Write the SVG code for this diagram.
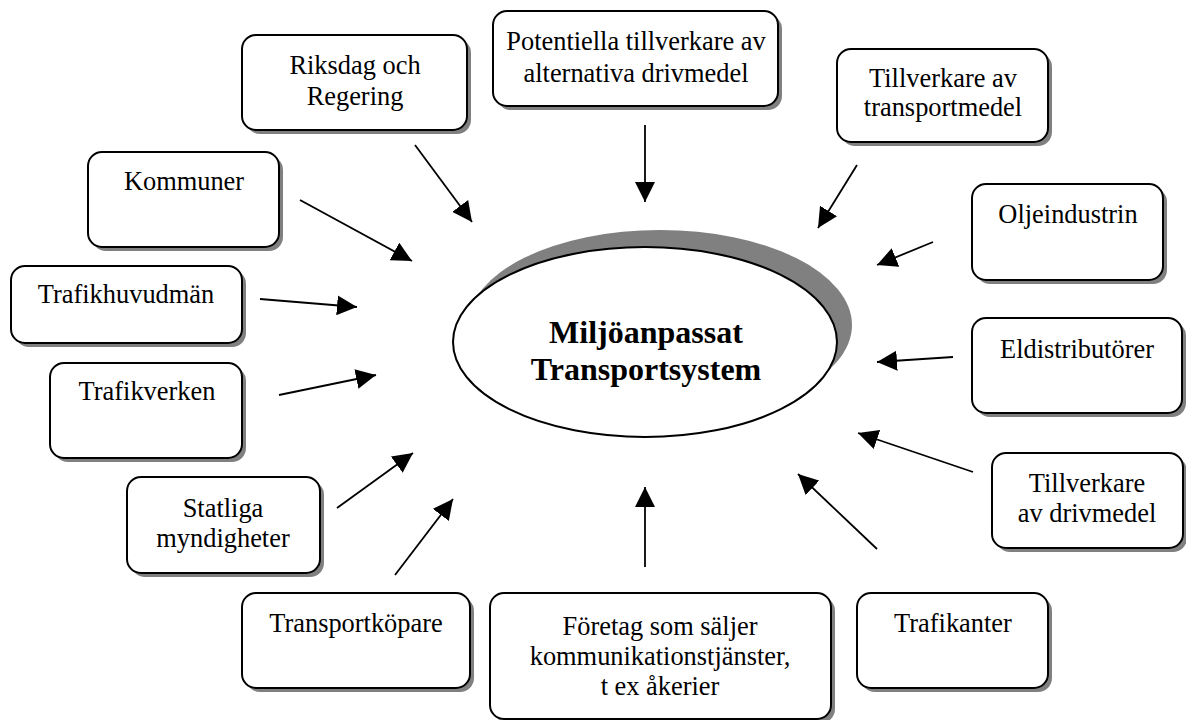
<svg xmlns="http://www.w3.org/2000/svg" width="1186" height="720" viewBox="0 0 1186 720">
  <style>
    .box { fill: #ffffff; stroke: #000000; stroke-width: 2; }
    .shadow { fill: #808080; }
    .lbl { font-family: "Liberation Serif", "Times New Roman", serif; font-size: 26.4px; fill: #000000; text-anchor: middle; }
    .hub { font-family: "Liberation Serif", "Times New Roman", serif; font-size: 32px; font-weight: bold; fill: #000000; text-anchor: middle; }
    .arrow { stroke: #000000; stroke-width: 1.8; fill: none; marker-end: url(#head); }
  </style>
  <defs>
    <marker id="head" markerUnits="userSpaceOnUse" markerWidth="22" markerHeight="20" refX="20" refY="10" orient="auto">
      <path d="M0,0 L20,10 L0,20 z" fill="#000000"/>
    </marker>
  </defs>
  <rect width="1186" height="720" fill="#ffffff"/>

  <!-- central hub -->
  <g id="hub">
    <ellipse cx="660" cy="325" rx="192" ry="95" class="shadow"/>
    <ellipse cx="645" cy="342" rx="192" ry="95" class="box"/>
    <text x="646" y="343" class="hub">Miljöanpassat</text>
    <text x="646" y="380" class="hub">Transportsystem</text>
  </g>

  <g id="riksdag">
    <rect x="246" y="39" width="225" height="95" rx="14" class="shadow"/>
    <rect x="242" y="35" width="225" height="95" rx="14" class="box"/>
    <text x="355" y="74" class="lbl">Riksdag och</text>
    <text x="355" y="105" class="lbl">Regering</text>
  </g>

  <g id="potentiella">
    <rect x="497" y="15" width="285" height="95" rx="14" class="shadow"/>
    <rect x="493" y="11" width="285" height="95" rx="14" class="box"/>
    <text x="636" y="50" class="lbl">Potentiella tillverkare av</text>
    <text x="636" y="82" class="lbl">alternativa drivmedel</text>
  </g>

  <g id="transportmedel">
    <rect x="841" y="53" width="211" height="93" rx="14" class="shadow"/>
    <rect x="837" y="49" width="211" height="93" rx="14" class="box"/>
    <text x="943" y="87" class="lbl">Tillverkare av</text>
    <text x="943" y="116" class="lbl">transportmedel</text>
  </g>

  <g id="oljeindustrin">
    <rect x="976" y="188" width="191" height="96" rx="14" class="shadow"/>
    <rect x="972" y="184" width="191" height="96" rx="14" class="box"/>
    <text x="1068" y="223" class="lbl">Oljeindustrin</text>
  </g>

  <g id="eldistributorer">
    <rect x="976" y="322" width="210" height="95" rx="14" class="shadow"/>
    <rect x="972" y="318" width="210" height="95" rx="14" class="box"/>
    <text x="1077" y="358" class="lbl">Eldistributörer</text>
  </g>

  <g id="drivmedel">
    <rect x="996" y="457" width="191" height="95" rx="14" class="shadow"/>
    <rect x="992" y="453" width="191" height="95" rx="14" class="box"/>
    <text x="1087" y="492" class="lbl">Tillverkare</text>
    <text x="1087" y="522" class="lbl">av drivmedel</text>
  </g>

  <g id="trafikanter">
    <rect x="861" y="597" width="191" height="95" rx="14" class="shadow"/>
    <rect x="857" y="593" width="191" height="95" rx="14" class="box"/>
    <text x="953" y="632" class="lbl">Trafikanter</text>
  </g>

  <g id="foretag">
    <rect x="494" y="597" width="341" height="126" rx="14" class="shadow"/>
    <rect x="490" y="593" width="341" height="126" rx="14" class="box"/>
    <text x="660" y="635" class="lbl">Företag som säljer</text>
    <text x="660" y="665" class="lbl">kommunikationstjänster,</text>
    <text x="660" y="695" class="lbl">t ex åkerier</text>
  </g>

  <g id="transportkopare">
    <rect x="246" y="597" width="228" height="95" rx="14" class="shadow"/>
    <rect x="242" y="593" width="228" height="95" rx="14" class="box"/>
    <text x="356" y="632" class="lbl">Transportköpare</text>
  </g>

  <g id="statliga">
    <rect x="131" y="481" width="193" height="96" rx="14" class="shadow"/>
    <rect x="127" y="477" width="193" height="96" rx="14" class="box"/>
    <text x="223" y="517" class="lbl">Statliga</text>
    <text x="223" y="547" class="lbl">myndigheter</text>
  </g>

  <g id="trafikverken">
    <rect x="54" y="367" width="192" height="95" rx="14" class="shadow"/>
    <rect x="50" y="363" width="192" height="95" rx="14" class="box"/>
    <text x="147" y="400" class="lbl">Trafikverken</text>
  </g>

  <g id="trafikhuvudman">
    <rect x="15" y="270" width="231" height="77" rx="14" class="shadow"/>
    <rect x="11" y="266" width="231" height="77" rx="14" class="box"/>
    <text x="126" y="303" class="lbl">Trafikhuvudmän</text>
  </g>

  <g id="kommuner">
    <rect x="92" y="156" width="191" height="95" rx="14" class="shadow"/>
    <rect x="88" y="152" width="191" height="95" rx="14" class="box"/>
    <text x="184" y="190" class="lbl">Kommuner</text>
  </g>

  <!-- arrows pointing at the hub -->
  <g id="connectors">
    <line x1="415" y1="145" x2="472" y2="222" class="arrow"/>
    <line x1="645" y1="125" x2="645" y2="202" class="arrow"/>
    <line x1="857" y1="165" x2="818" y2="228" class="arrow"/>
    <line x1="933" y1="242" x2="877" y2="265" class="arrow"/>
    <line x1="953" y1="357" x2="877" y2="362" class="arrow"/>
    <line x1="973" y1="472" x2="858" y2="433" class="arrow"/>
    <line x1="877" y1="549" x2="798" y2="474" class="arrow"/>
    <line x1="645" y1="567" x2="645" y2="487" class="arrow"/>
    <line x1="395" y1="575" x2="453" y2="499" class="arrow"/>
    <line x1="337" y1="508" x2="413" y2="453" class="arrow"/>
    <line x1="279" y1="395" x2="376" y2="375" class="arrow"/>
    <line x1="260" y1="299" x2="357" y2="307" class="arrow"/>
    <line x1="300" y1="200" x2="412" y2="261" class="arrow"/>
  </g>
</svg>
